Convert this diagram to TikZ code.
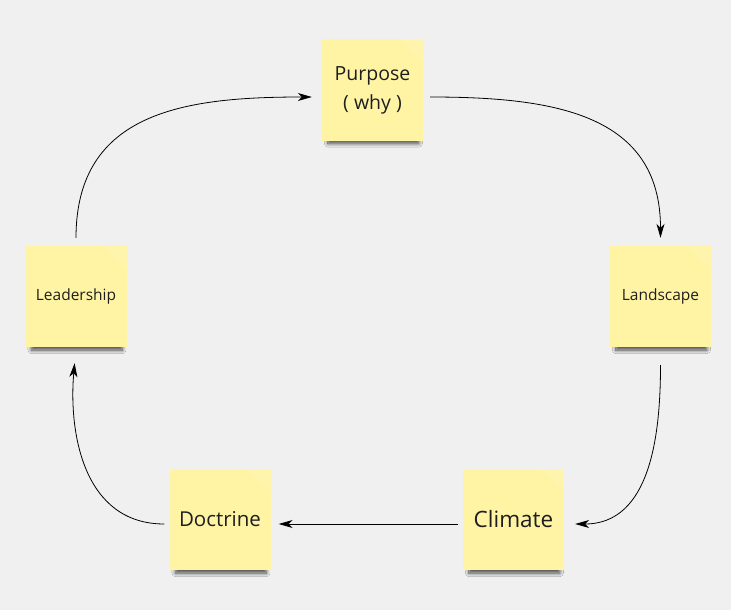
\documentclass[tikz,border=0pt]{standalone}
\usepackage{fontspec}
\setmainfont{Open Sans}
\usetikzlibrary{calc,arrows.meta,shadows.blur}
\definecolor{bgc}{RGB}{240,240,240}
\definecolor{notey}{RGB}{255,244,164}
\definecolor{inkc}{RGB}{30,30,30}
\begin{document}
\begin{tikzpicture}[x=1pt,y=1pt,
  note/.style={fill=notey, minimum width=101pt, minimum height=101pt, inner sep=0pt,
    align=center, text=inkc,
    blur shadow={shadow xshift=1pt, shadow yshift=-9pt, shadow scale=0.9,
      shadow blur steps=10, shadow blur radius=4pt, shadow opacity=70}},
  arr/.style={draw=black, line width=0.8pt, -{Stealth[length=14pt,width=8pt,inset=4pt]}}]
\fill[bgc] (0,0) rectangle (731,-610);
\useasboundingbox (0,0) rectangle (731,-610);

\node[note, font=\fontsize{19.5}{29}\selectfont] (purpose) at (372.5,-90) {Purpose\\( why )};
\node[note, font=\fontsize{15.5}{17}\selectfont] (leadership) at (76,-296.5) {Leadership};
\node[note, font=\fontsize{15.5}{17}\selectfont] (landscape) at (660.5,-296.5) {Landscape};
\node[note, font=\fontsize{22.5}{24}\selectfont] (climate) at (513.5,-519.5) {Climate};
\node[note, font=\fontsize{20.5}{22}\selectfont] (doctrine) at (220,-519.5) {Doctrine};

\foreach \n in {purpose,leadership,landscape,climate,doctrine}{
  \fill[white, opacity=0.09] ($(\n.north east)+(-24,0)$) -- (\n.north east) -- ($(\n.north east)+(0,-24)$) -- cycle;
}

\draw[arr, shorten <=8pt, shorten >=10pt] (leadership.north) to[out=90,in=180,looseness=1.2] ($(purpose.west)+(0,-7)$);
\draw[arr, shorten <=7pt, shorten >=8pt] ($(purpose.east)+(0,-7)$) to[out=0,in=90,looseness=1.2] (landscape.north);
\draw[arr, shorten <=18pt, shorten >=11pt] (landscape.south) to[out=-90,in=0,looseness=1.1] ($(climate.east)+(0,-4.5)$);
\draw[arr, shorten <=5pt, shorten >=8pt] ($(climate.west)+(0,-4.5)$) -- ($(doctrine.east)+(0,-4.5)$);
\draw[arr, shorten <=5pt, shorten >=16pt] ($(doctrine.west)+(0,-4.5)$) to[out=180,in=-95,looseness=1.1] (leadership.south);
\end{tikzpicture}
\end{document}
